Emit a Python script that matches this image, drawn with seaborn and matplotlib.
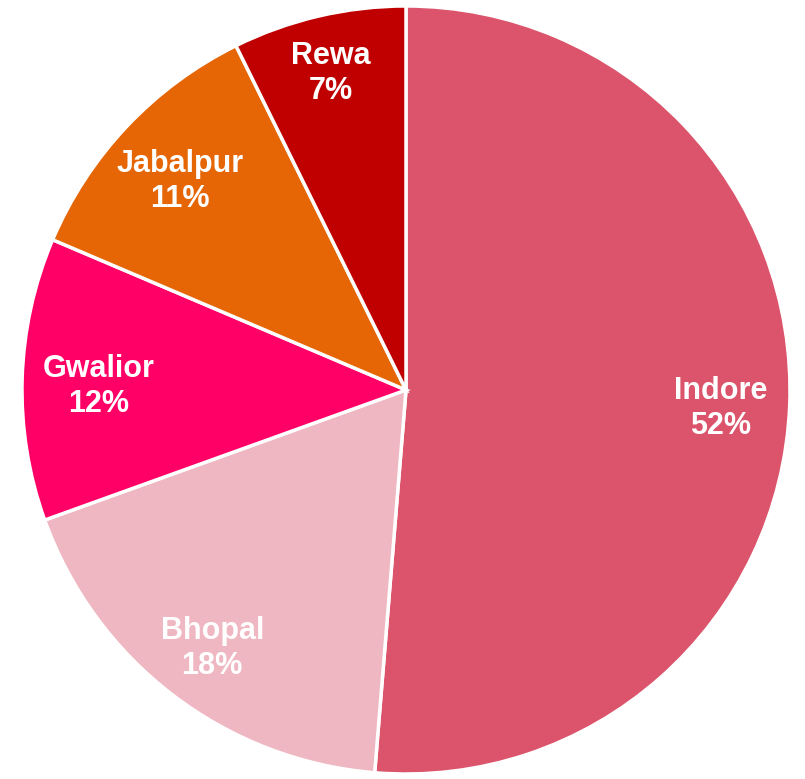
import numpy as np
import matplotlib
matplotlib.use("Agg")
import matplotlib.pyplot as plt
import seaborn as sns

# datos
ciudades = ["Indore", "Bhopal", "Gwalior", "Jabalpur", "Rewa"]
porcentajes = [51.3, 18.2, 11.9, 11.3, 7.3]
etiquetas_pct = ["52%", "18%", "12%", "11%", "7%"]
colores = ["#DB546B", "#EFB7C1", "#FF0066", "#E66504", "#C00000"]

sns.set_theme(style="white")
plt.rcParams["font.family"] = ["Liberation Sans", "DejaVu Sans"]

fig = plt.figure(figsize=(8.05, 7.79), dpi=100)
ax = fig.add_axes([22 / 805, 5 / 779, 768 / 805, 768 / 779])

wedges, _ = ax.pie(
    porcentajes,
    colors=colores,
    startangle=90,
    counterclock=False,
    radius=1,
    wedgeprops={"edgecolor": "white", "linewidth": 2.5},
)

# distancia de cada etiqueta al centro
dist = {"Indore": 0.82, "Bhopal": 0.83, "Gwalior": 0.80, "Jabalpur": 0.81, "Rewa": 0.86}

for w, nombre, pct in zip(wedges, ciudades, etiquetas_pct):
    ang = np.deg2rad((w.theta1 + w.theta2) / 2)
    r = dist[nombre]
    ax.text(
        r * np.cos(ang),
        r * np.sin(ang) - 0.014,
        f"{nombre}\n{pct}",
        ha="center",
        va="center",
        color="white",
        fontsize=22,
        fontweight="bold",
        linespacing=1.2,
    )

ax.set_xlim(-1, 1)
ax.set_ylim(-1, 1)
ax.set_aspect("equal")
ax.axis("off")

fig.savefig("out.png", dpi=100)
